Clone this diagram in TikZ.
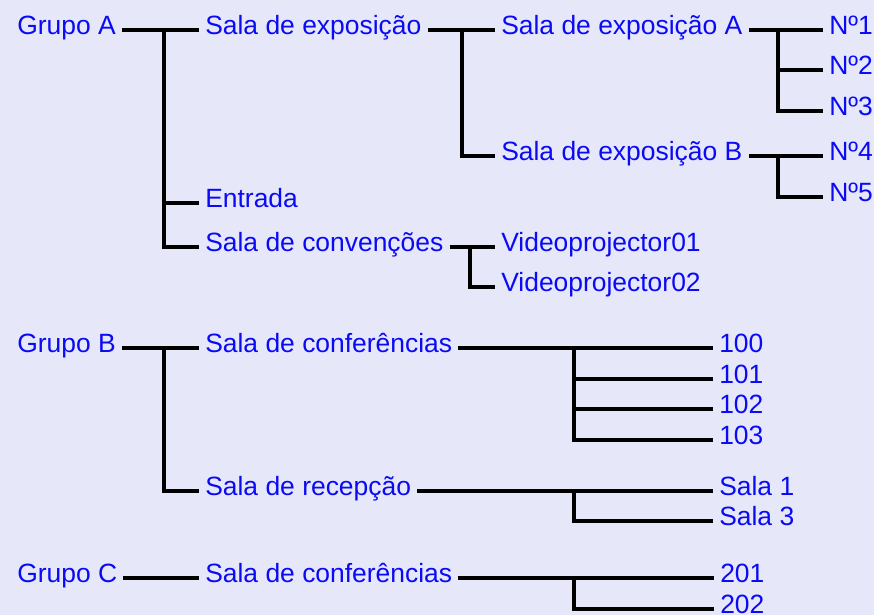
\documentclass[tikz,border=0pt]{standalone}
\usepackage{fontspec}
\setmainfont{Liberation Sans}
\usepackage{tikz}
\definecolor{panelbg}{RGB}{230,232,250}
\definecolor{roomblue}{RGB}{10,10,245}

\begin{document}
\begin{tikzpicture}[x=0.025cm, y=-0.025cm,
    room/.style={anchor=west, inner xsep=0.15cm, inner ysep=0pt, text height=0.45cm, text depth=0.22cm, text=roomblue, font=\fontsize{18.8}{22}\selectfont},
    branch/.style={line width=2.2pt}]
    \fill[panelbg] (0,0) rectangle (874,615);
    \useasboundingbox (0,0) rectangle (874,615);

    %Grupo A
    \node[room] (ga) at (11,30) {Grupo A};
    \node[room] (sexp) at (199,30) {Sala de exposição};
    \node[room] (sexpA) at (495,30) {Sala de exposição A};
    \node[room] (n1) at (823,30) {Nº1};
    \node[room] (n2) at (823,70) {Nº2};
    \node[room] (n3) at (823,111) {Nº3};
    \node[room] (sexpB) at (495,156) {Sala de exposição B};
    \node[room] (n4) at (823,156) {Nº4};
    \node[room] (n5) at (823,197) {Nº5};
    \node[room] (ent) at (199,203) {Entrada};
    \node[room] (conv) at (199,247) {Sala de convenções};
    \node[room] (vp1) at (495,247) {Videoprojector01};
    \node[room] (vp2) at (495,287) {Videoprojector02};

    %Grupo B
    \node[room] (gb) at (11,348) {Grupo B};
    \node[room] (confB) at (199,348) {Sala de conferências};
    \node[room] (r100) at (713,348) {100};
    \node[room] (r101) at (713,379) {101};
    \node[room] (r102) at (713,409) {102};
    \node[room] (r103) at (713,440) {103};
    \node[room] (rec) at (199,491) {Sala de recepção};
    \node[room] (sala1) at (713,491) {Sala 1};
    \node[room] (sala3) at (713,521) {Sala 3};

    %Grupo C
    \node[room] (gc) at (11,578) {Grupo C};
    \node[room] (confC) at (199,578) {Sala de conferências};
    \node[room] (r201) at (714,578) {201};
    \node[room] (r202) at (714,609) {202};

    % junctions
    \coordinate (jA) at (164,30);
    \coordinate (jExp) at (462,30);
    \coordinate (jExpA) at (778,30);
    \coordinate (jExpB) at (778,156);
    \coordinate (jConv) at (470,247);
    \coordinate (jB) at (164,348);
    \coordinate (jConfB) at (574,348);
    \coordinate (jRec) at (574,491);
    \coordinate (jConfC) at (574,578);

    % branches Grupo A
    \draw[branch] (ga.east) -- (sexp.west);
    \draw[branch] (jA) |- (ent.west);
    \draw[branch] (jA) |- (conv.west);
    \draw[branch] (sexp.east) -- (sexpA.west);
    \draw[branch] (jExp) |- (sexpB.west);
    \draw[branch] (sexpA.east) -- (n1.west);
    \draw[branch] (jExpA) |- (n2.west);
    \draw[branch] (jExpA) |- (n3.west);
    \draw[branch] (sexpB.east) -- (n4.west);
    \draw[branch] (jExpB) |- (n5.west);
    \draw[branch] (conv.east) -- (vp1.west);
    \draw[branch] (jConv) |- (vp2.west);

    % branches Grupo B
    \draw[branch] (gb.east) -- (confB.west);
    \draw[branch] (jB) |- (rec.west);
    \draw[branch] (confB.east) -- (r100.west);
    \draw[branch] (jConfB) |- (r101.west);
    \draw[branch] (jConfB) |- (r102.west);
    \draw[branch] (jConfB) |- (r103.west);
    \draw[branch] (rec.east) -- (sala1.west);
    \draw[branch] (jRec) |- (sala3.west);

    % branches Grupo C
    \draw[branch] (gc.east) -- (confC.west);
    \draw[branch] (confC.east) -- (r201.west);
    \draw[branch] (jConfC) |- (r202.west);

\end{tikzpicture}
\end{document}
